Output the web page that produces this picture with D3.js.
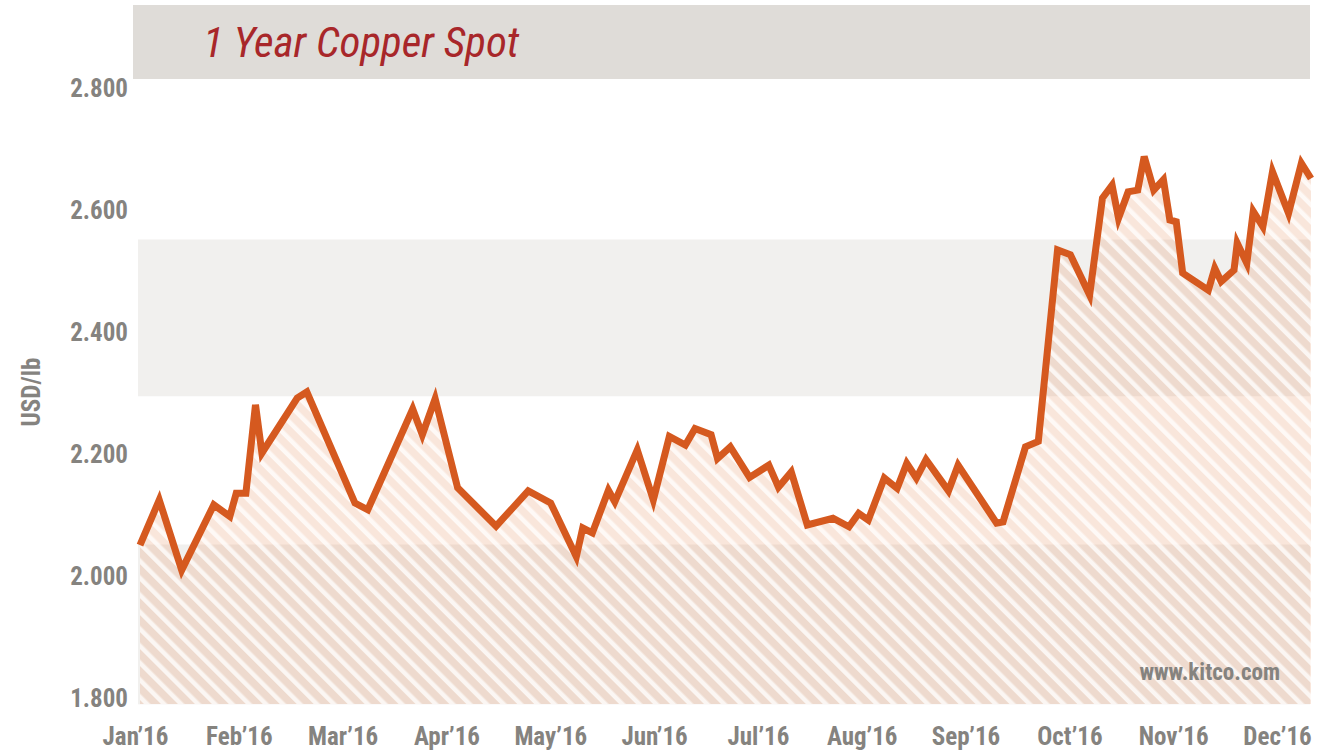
<!DOCTYPE html>
<html>
<head>
<meta charset="utf-8">
<script src="https://cdn.jsdelivr.net/npm/d3@7"></script>
<style>
  body { margin: 0; background: #fff; }
  text { font-family: "Liberation Sans Narrow", "Roboto Condensed", "Arial Narrow", sans-serif; }
</style>
</head>
<body>
<div id="chart"></div>
<script>
// copper spot, USD/lb
var dates = ["2016-01-01","2016-01-07","2016-01-14","2016-01-24","2016-01-29","2016-01-31","2016-02-03","2016-02-06","2016-02-08","2016-02-19",
  "2016-02-22","2016-03-08","2016-03-12","2016-03-26","2016-03-29","2016-04-02","2016-04-09","2016-04-21","2016-05-01","2016-05-08",
  "2016-05-16","2016-05-18","2016-05-21","2016-05-26","2016-05-28","2016-06-04","2016-06-09","2016-06-14","2016-06-19","2016-06-22",
  "2016-06-27","2016-06-29","2016-07-03","2016-07-09","2016-07-15","2016-07-18","2016-07-22","2016-07-27","2016-08-04","2016-08-09",
  "2016-08-12","2016-08-15","2016-08-20","2016-08-24","2016-08-27","2016-08-30","2016-09-02","2016-09-09","2016-09-12","2016-09-24",
  "2016-09-26","2016-10-03","2016-10-07","2016-10-13","2016-10-17","2016-10-23","2016-10-27","2016-10-30","2016-11-01","2016-11-04",
  "2016-11-07","2016-11-09","2016-11-12","2016-11-15","2016-11-17","2016-11-19","2016-11-21","2016-11-29","2016-12-01","2016-12-03",
  "2016-12-07","2016-12-08","2016-12-11","2016-12-13","2016-12-16","2016-12-19","2016-12-24","2016-12-28","2016-12-31"];

var prices = [2.049,2.123,2.008,2.115,2.096,2.134,2.134,2.279,2.200,2.290,
  2.300,2.118,2.107,2.272,2.230,2.289,2.143,2.080,2.138,2.118,
  2.030,2.077,2.069,2.139,2.120,2.205,2.123,2.227,2.213,2.240,
  2.230,2.191,2.210,2.160,2.180,2.144,2.169,2.082,2.093,2.079,
  2.101,2.090,2.159,2.142,2.183,2.159,2.189,2.138,2.180,2.085,
  2.087,2.210,2.219,2.533,2.525,2.459,2.618,2.639,2.585,2.628,
  2.631,2.686,2.631,2.648,2.582,2.579,2.495,2.467,2.503,2.481,
  2.500,2.544,2.511,2.596,2.571,2.661,2.593,2.675,2.650];

var monthLabels = ["Jan\u201916","Feb\u201916","Mar\u201916","Apr\u201916","May\u201916","Jun\u201916",
  "Jul\u201916","Aug\u201916","Sep\u201916","Oct\u201916","Nov\u201916","Dec\u201916"];

var yTicks = [1.8, 2.0, 2.2, 2.4, 2.6, 2.8];

// grey background bands (value ranges)
var bands = [[1.788, 2.05], [2.293, 2.55]];

var svgWidth = 1343;
var svgHeight = 753;

var plotLeft = 138, plotRight = 1310, plotBottom = 704;

var svg = d3.select("#chart")
  .append("svg")
  .attr("width", svgWidth)
  .attr("height", svgHeight);

var parse = d3.timeParse("%Y-%m-%d");
var data = dates.map(function(d, i) {
  return { date: parse(d), price: prices[i] };
});

var x = d3.scaleTime()
  .domain([parse("2016-01-01"), parse("2016-12-31")])
  .range([140, 1311]);

var y = d3.scaleLinear()
  .domain([1.8, 2.8])
  .range([697, 87]);

var xMonths = d3.scalePoint()
  .domain(monthLabels)
  .range([135, 1277]);

// hatch pattern
var defs = svg.append("defs");
var pat = defs.append("pattern")
  .attr("id", "hatch")
  .attr("patternUnits", "userSpaceOnUse")
  .attr("width", 12)
  .attr("height", 12)
  .attr("patternTransform", "rotate(-45)");
pat.append("rect")
  .attr("width", 12).attr("height", 12)
  .attr("fill", "rgba(228,140,92,0.22)");
pat.append("rect")
  .attr("width", 4.5).attr("height", 12)
  .attr("fill", "rgba(255,255,255,0.75)");

// title band
svg.append("rect")
  .attr("x", 133).attr("y", 5)
  .attr("width", 1177).attr("height", 74)
  .attr("fill", "#dfdcd8");

svg.append("text")
  .attr("x", 203).attr("y", 57)
  .attr("font-size", 43)
  .attr("font-style", "italic")
  .attr("fill", "#a8272a")
  .text("1 Year Copper Spot");

// bands
svg.append("g")
  .selectAll("rect")
  .data(bands)
  .enter()
  .append("rect")
  .attr("x", plotLeft)
  .attr("width", plotRight - plotLeft)
  .attr("y", d => y(d[1]))
  .attr("height", d => y(d[0]) - y(d[1]))
  .attr("fill", "#f1f0ee");

// area
var area = d3.area()
  .x(d => x(d.date))
  .y0(plotBottom)
  .y1(d => y(d.price));

svg.append("path")
  .datum(data)
  .attr("d", area)
  .attr("fill", "url(#hatch)");

// line
var line = d3.line()
  .x(d => x(d.date))
  .y(d => y(d.price));

svg.append("path")
  .datum(data)
  .attr("d", line)
  .attr("fill", "none")
  .attr("stroke", "#d5591f")
  .attr("stroke-width", 7)
  .attr("stroke-linejoin", "miter");

// axes
var leftAxis = d3.axisLeft(y)
  .tickValues(yTicks)
  .tickFormat(d3.format(".3f"))
  .tickSize(0)
  .tickPadding(0);

var yAxisG = svg.append("g")
  .attr("transform", "translate(128,0)")
  .call(leftAxis);

var bottomAxis = d3.axisBottom(xMonths)
  .tickSize(0)
  .tickPadding(0);

var xAxisG = svg.append("g")
  .attr("transform", "translate(0,727)")
  .call(bottomAxis);

svg.selectAll(".domain").remove();
svg.selectAll(".tick text")
  .attr("font-family", null)
  .style("font-size", "25px")
  .style("font-weight", "bold")
  .style("fill", "#85837f");

yAxisG.selectAll(".tick text").attr("dy", "0.36em");
xAxisG.selectAll(".tick text").attr("dy", "0.71em");

// y label
svg.append("text")
  .attr("transform", "translate(40,392) rotate(-90)")
  .attr("text-anchor", "middle")
  .attr("font-size", 25)
  .attr("font-weight", "bold")
  .attr("fill", "#85837f")
  .text("USD/lb");

// watermark
svg.append("text")
  .attr("x", 1280).attr("y", 680)
  .attr("text-anchor", "end")
  .attr("font-size", 23)
  .attr("font-weight", "bold")
  .attr("fill", "#85837f")
  .text("www.kitco.com");
</script>
</body>
</html>
